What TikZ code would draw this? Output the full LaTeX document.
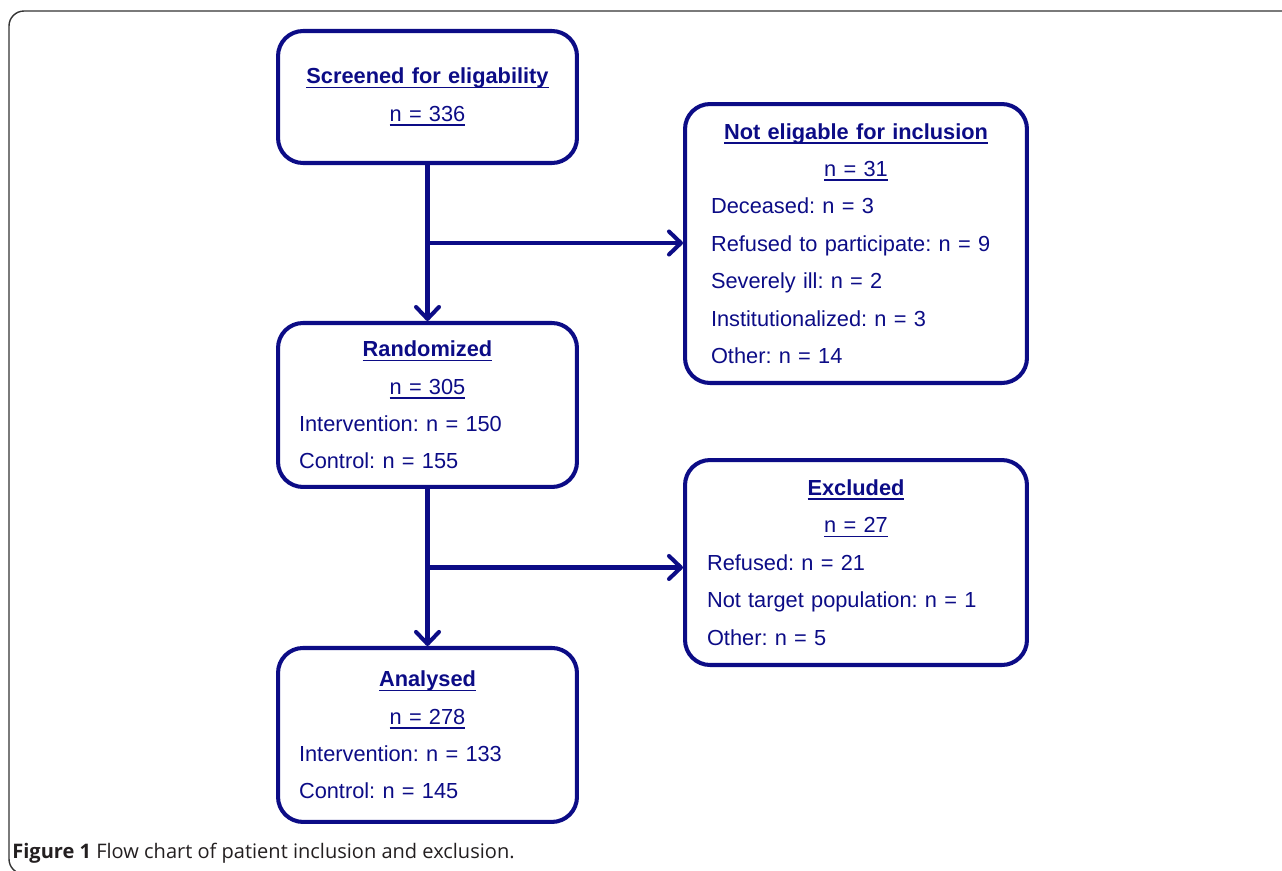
\documentclass[tikz,border=0pt]{standalone}
\usepackage{fontspec}
\setmainfont{Liberation Sans}
\newfontfamily\capfont{Open Sans}
\usetikzlibrary{arrows.meta, positioning, calc}
\frenchspacing
\definecolor{flownavy}{HTML}{0C0C86}
\definecolor{capgray}{HTML}{231F20}
\newcommand{\flowline}[1]{\setbox0\hbox{#1}\rlap{\rule[-2.6pt]{\wd0}{0.95pt}}\box0}
\newcommand{\flowhead}[1]{\makebox[\hsize]{\flowline{#1}}}
\tikzset{
  stage/.style={draw=flownavy,line width=2.3pt,rounded corners=0.5cm,text=flownavy,
    font=\fontsize{12.4}{21.3}\selectfont,align=left,inner xsep=0.42cm,inner ysep=0pt,
    minimum width=5.98cm,text width=5.14cm},
  dropout/.style={stage,minimum width=6.84cm,text width=5.8cm,inner xsep=0.52cm},
  flow/.style={draw=flownavy,line width=2.3pt,-{Straight Barb[length=2.4mm,width=4.6mm,round]}},
  figframe/.style={draw=black!80,line width=0.8pt,rounded corners=0.3cm},
  figcaption/.style={text=capgray,font=\capfont\fontsize{11.4}{13}\selectfont,inner sep=0pt},
}

\begin{document}
\begin{tikzpicture}[x=0.02cm,y=-0.02cm]
	    \clip (0,0) rectangle (1282,870);
	    \draw[figframe] (1310,11) -- (9,11) -- (9,874) -- (1310,874);
	    % main column
	    \node[stage,minimum height=2.64cm] (screened) at (427.5,97)
	    	{\flowhead{\textbf{Screened for eligability}}\\ \flowhead{n = 336}};
	    \node[stage,minimum height=3.28cm,below=3.12cm of screened] (randomized)
	    	{\flowhead{\textbf{Randomized}}\\ \flowhead{n = 305}\\
	    	Intervention: n = 150\\ Control: n = 155};
	    \node[stage,minimum height=3.48cm,below=3.14cm of randomized] (analysed)
	    	{\flowhead{\textbf{Analysed}}\\ \flowhead{n = 278}\\
	    	Intervention: n = 133\\ Control: n = 145};
	    % side boxes
	    \node[dropout,minimum height=5.58cm] (noteligible) at (856,243.5)
	    	{\flowhead{\textbf{Not eligable for inclusion}}\\ \flowhead{n = 31}\\
	    	Deceased: n = 3\\ Refused to participate: n = 9\\ Severely ill: n = 2\\
	    	Institutionalized: n = 3\\ Other: n = 14};
	    \node[dropout,minimum height=4.10cm,inner xsep=0.44cm,text width=5.96cm] (excluded) at (856,562.5)
	    	{\flowhead{\textbf{Excluded}}\\ \flowhead{n = 27}\\
	    	Refused: n = 21\\ Not target population: n = 1\\ Other: n = 5};
	    \coordinate (split1) at ($(screened.south)!.5!(randomized.north)$);
	    \coordinate (split2) at ($(randomized.south)!.5!(analysed.north)$);
	    \draw[flow] (screened) -- (randomized);
	    \draw[flow] (randomized) -- (analysed);
	    \draw[flow] (split1) -- (split1 -| noteligible.west);
	    \draw[flow] (split2) -- (split2 -| excluded.west);
	    \node[figcaption,anchor=base west] (figcap) at (12,858)
	    	{\textbf{Figure 1} Flow chart of patient inclusion and exclusion.};
	\end{tikzpicture}
\end{document}
